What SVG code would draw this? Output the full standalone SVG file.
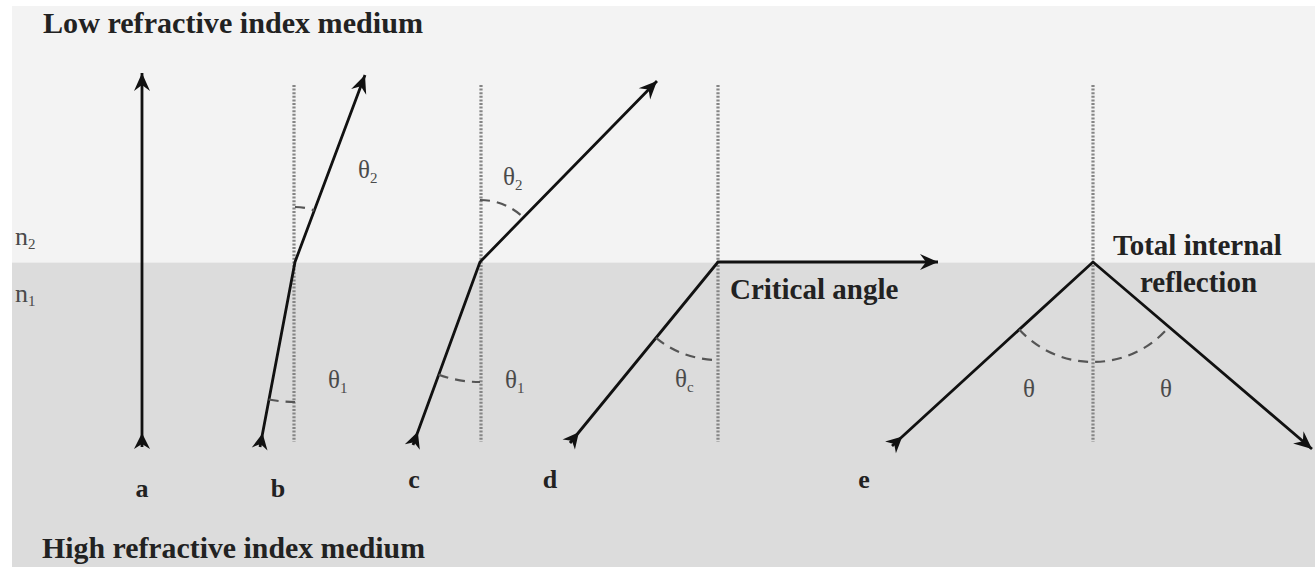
<svg xmlns="http://www.w3.org/2000/svg" width="1315" height="567" viewBox="0 0 1315 567">
<style>
.ray{fill:none;stroke:#111;stroke-width:2.8;stroke-linejoin:miter;marker-start:url(#tail);marker-end:url(#head)}
.normal{stroke:#858585;stroke-width:3.2;stroke-dasharray:2 1.6;fill:none}
.arc{fill:none;stroke:#555;stroke-width:2.2;stroke-dasharray:10 7}
.title{font-family:"Liberation Serif",serif;font-weight:bold;font-size:29px;fill:#222}
.lbl{font-family:"Liberation Serif",serif;font-weight:bold;font-size:26px;fill:#222;text-anchor:middle}
.ang{font-family:"Liberation Serif",serif;font-size:25px;fill:#4a4a4a}
.sub{font-size:15px}
.n{font-family:"Liberation Serif",serif;font-size:26px;fill:#4a4a4a}
</style>
<defs>
<marker id="head" markerUnits="userSpaceOnUse" viewBox="-20 -10 40 20" markerWidth="40" markerHeight="20" refX="0" refY="0" orient="auto" overflow="visible">
<path d="M0,0 L-18,-8 L-12,0 L-18,8 Z" fill="#111"/>
</marker>
<marker id="tail" markerUnits="userSpaceOnUse" viewBox="-20 -10 40 20" markerWidth="40" markerHeight="20" refX="0" refY="0" orient="auto" overflow="visible">
<path d="M14,0 L-2,-8 L3,0 L-2,8 Z" fill="#111"/>
</marker>
</defs>
<g id="background">
<rect x="0" y="0" width="1315" height="567" fill="#ffffff"/>
<rect x="12" y="6" width="1303" height="256" fill="#f3f3f3"/>
<rect x="12" y="262" width="1303" height="305" fill="#dcdcdc"/>
<line x1="12" y1="262.5" x2="1315" y2="262.5" stroke="#ebebeb" stroke-width="1"/>
</g>
<g id="titles">
<text class="title" x="43" y="33" textLength="380" lengthAdjust="spacingAndGlyphs">Low refractive index medium</text>
<text class="title" x="42" y="558" textLength="383" lengthAdjust="spacingAndGlyphs">High refractive index medium</text>
<text class="n" x="15" y="245">n<tspan class="sub" dy="4">2</tspan></text>
<text class="n" x="15" y="302">n<tspan class="sub" dy="4">1</tspan></text>
</g>
<g id="normals">
<line class="normal" x1="294" y1="85" x2="294" y2="442"/>
<line class="normal" x1="481" y1="85" x2="481" y2="442"/>
<line class="normal" x1="718" y1="85" x2="718" y2="442"/>
<line class="normal" x1="1093" y1="85" x2="1093" y2="442"/>
</g>
<g id="connectors">
<path class="ray" d="M142,447 L142,73"/>
<path class="ray" d="M260,447 L295,262 L365,75"/>
<path class="ray" d="M413,445 L480,262 L657,81"/>
<path class="ray" d="M570,443 L718,262 L938,262"/>
<path class="ray" d="M892,446 L1093,262 L1312,449"/>
</g>
<g id="node-a">
<text class="lbl" x="142" y="497">a</text>
</g>
<g id="node-b">
<path class="arc" d="M295,207 A55,55 0 0 1 314.3,210.5"/>
<path class="arc" d="M268.7,399.5 A140,140 0 0 0 295,402"/>
<text class="ang" x="358" y="178">θ<tspan class="sub" dy="5">2</tspan></text>
<text class="ang" x="328" y="388">θ<tspan class="sub" dy="5">1</tspan></text>
<text class="lbl" x="278" y="497">b</text>
</g>
<g id="node-c">
<path class="arc" d="M480,200 A62,62 0 0 1 523.4,217.6"/>
<path class="arc" d="M438.7,374.7 A120,120 0 0 0 480,382"/>
<text class="ang" x="503" y="185">θ<tspan class="sub" dy="5">2</tspan></text>
<text class="ang" x="505" y="388">θ<tspan class="sub" dy="5">1</tspan></text>
<text class="lbl" x="414" y="488">c</text>
</g>
<g id="node-d">
<path class="arc" d="M656,337.9 A98,98 0 0 0 718,360"/>
<text class="ang" x="675" y="387">θ<tspan class="sub" dy="5">c</tspan></text>
<text class="title" x="730" y="299">Critical angle</text>
<text class="lbl" x="550" y="488">d</text>
</g>
<g id="node-e">
<path class="arc" d="M1019.2,329.5 A100,100 0 0 0 1169,326.9"/>
<text class="ang" x="1023" y="397">θ</text>
<text class="ang" x="1160" y="397">θ</text>
<text class="title" x="1113" y="255">Total internal</text>
<text class="title" x="1140" y="292">reflection</text>
<text class="lbl" x="864" y="488">e</text>
</g>
</svg>
